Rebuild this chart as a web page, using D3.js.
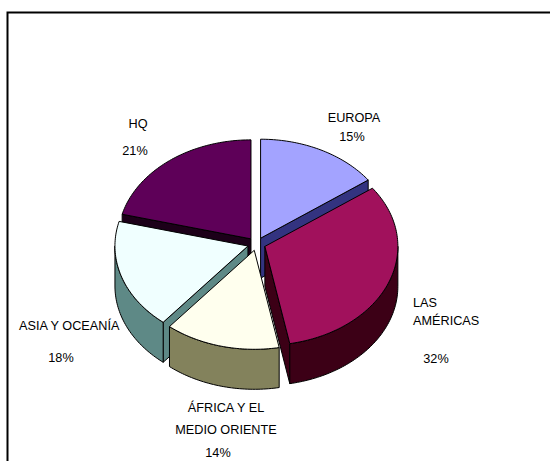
<!DOCTYPE html>
<html>
<head>
<meta charset="utf-8">
<script src="https://cdn.jsdelivr.net/npm/d3@7"></script>
<style>
  html, body { margin: 0; padding: 0; background: #fff; }
  svg { display: block; }
  text { font-family: "Liberation Sans", Arial, sans-serif; font-size: 12.7px; fill: #000; }
</style>
</head>
<body>
<svg id="chart" width="550" height="461"></svg>
<script>
// Regional distribution (percent of total)
const categories = ["EUROPA", "LAS AMÉRICAS", "ÁFRICA Y EL MEDIO ORIENTE", "ASIA Y OCEANÍA", "HQ"];
const shares = [15, 32, 14, 18, 21];
const labelLines = [["EUROPA"], ["LAS", "AMÉRICAS"], ["ÁFRICA Y EL", "MEDIO ORIENTE"], ["ASIA Y OCEANÍA"], ["HQ"]];
const percentLabels = ["15%", "32%", "14%", "18%", "21%"];

// Face colours: top surface and darker wall shade for each slice
const topColors = ["#A3A3FF", "#A1115C", "#FFFFEE", "#F0FFFF", "#5E0058"];
const sideColors = ["#333380", "#3C0016", "#83825C", "#5E8986", "#1C0019"];

// Label placement: name lines (anchor, x, baselines) and percent line
const labelLayout = [
  { anchor: "middle", x: 354, ys: [122], px: 352, py: 141 },
  { anchor: "start", x: 413, ys: [307, 325], px: 436, py: 363 },
  { anchor: "middle", x: 226, ys: [412, 434], px: 218, py: 457 },
  { anchor: "start", x: 19, ys: [330], px: 61, py: 362 },
  { anchor: "middle", x: 138, ys: [128], px: 135, py: 155 }
];

const svg = d3.select("#chart");

// Chart frame (runs past the right and bottom edges of the page)
svg.append("rect")
  .attr("x", 7.5).attr("y", 12.5)
  .attr("width", 700).attr("height", 600)
  .attr("fill", "none").attr("stroke", "#000").attr("stroke-width", 2);

// 3-D pie geometry: elliptical top, extruded walls, exploded slices
const cx = 256.5, cy = 244;
const RX = 133, RY = 99, DEPTH = 40;
const EXPLODE_X = 9, EXPLODE_Y = 6.5;

const pie = d3.pie().sort(null).value(d => d).startAngle(0).endAngle(2 * Math.PI);
const arcs = pie(shares);

const rScale = d3.scaleLinear().domain([0, 1]).range([0, 1]);

function project(theta, r, h, off) {
  const rr = rScale(r);
  return [cx + off[0] + rr * RX * Math.sin(theta),
          cy + off[1] - rr * RY * Math.cos(theta) + h * DEPTH];
}

function arcPoints(a0, a1, h, off) {
  const n = Math.max(2, Math.ceil(Math.abs(a1 - a0) / 0.02));
  return d3.range(n + 1).map(i => project(a0 + (a1 - a0) * i / n, 1, h, off));
}

const faces = [];
const tops = [];

arcs.forEach((a, i) => {
  const mid = (a.startAngle + a.endAngle) / 2;
  const off = [EXPLODE_X * Math.sin(mid), -EXPLODE_Y * Math.cos(mid)];
  const offZ = EXPLODE_Y * Math.cos(mid) / RY;

  // top face
  tops.push({ i, pts: [project(0, 0, 0, off)].concat(arcPoints(a.startAngle, a.endAngle, 0, off)) });

  // outer wall on the front half of the rim
  const b0 = Math.max(a.startAngle, Math.PI / 2);
  const b1 = Math.min(a.endAngle, 3 * Math.PI / 2);
  if (b1 > b0) {
    const upper = arcPoints(b0, b1, 0, off);
    const lower = arcPoints(b1, b0, 1, off);
    const zs = d3.range(11).map(k => Math.cos(b0 + (b1 - b0) * k / 10));
    faces.push({ i, pts: upper.concat(lower), z: d3.mean(zs) + offZ });
  }

  // radial cut faces that turn towards the viewer
  const radial = t => [project(0, 0, 0, off), project(t, 1, 0, off), project(t, 1, 1, off), project(0, 0, 1, off)];
  if (Math.sin(a.startAngle) < -1e-6) {
    faces.push({ i, pts: radial(a.startAngle), z: 0.5 * Math.cos(a.startAngle) + offZ });
  }
  if (Math.sin(a.endAngle) > 1e-6) {
    faces.push({ i, pts: radial(a.endAngle), z: 0.5 * Math.cos(a.endAngle) + offZ });
  }
});

// far faces first
faces.sort((p, q) => q.z - p.z);

const line = d3.line().curve(d3.curveLinearClosed);

svg.append("g").selectAll("path.side")
  .data(faces).join("path")
  .attr("class", "side")
  .attr("d", d => line(d.pts))
  .attr("fill", d => sideColors[d.i])
  .attr("stroke", "#000").attr("stroke-width", 1).attr("stroke-linejoin", "round");

svg.append("g").selectAll("path.top")
  .data(tops).join("path")
  .attr("class", "top")
  .attr("d", d => line(d.pts))
  .attr("fill", d => topColors[d.i])
  .attr("stroke", "#000").attr("stroke-width", 1).attr("stroke-linejoin", "round");

// Category and percentage labels
const labels = svg.append("g").selectAll("g.label")
  .data(categories).join("g").attr("class", "label");

labels.each(function (name, i) {
  const g = d3.select(this);
  const L = labelLayout[i];
  labelLines[i].forEach((txt, k) => {
    g.append("text").attr("x", L.x).attr("y", L.ys[k])
      .attr("text-anchor", L.anchor).text(txt);
  });
  g.append("text").attr("x", L.px).attr("y", L.py)
    .attr("text-anchor", "middle").text(percentLabels[i]);
});
</script>
</body>
</html>
